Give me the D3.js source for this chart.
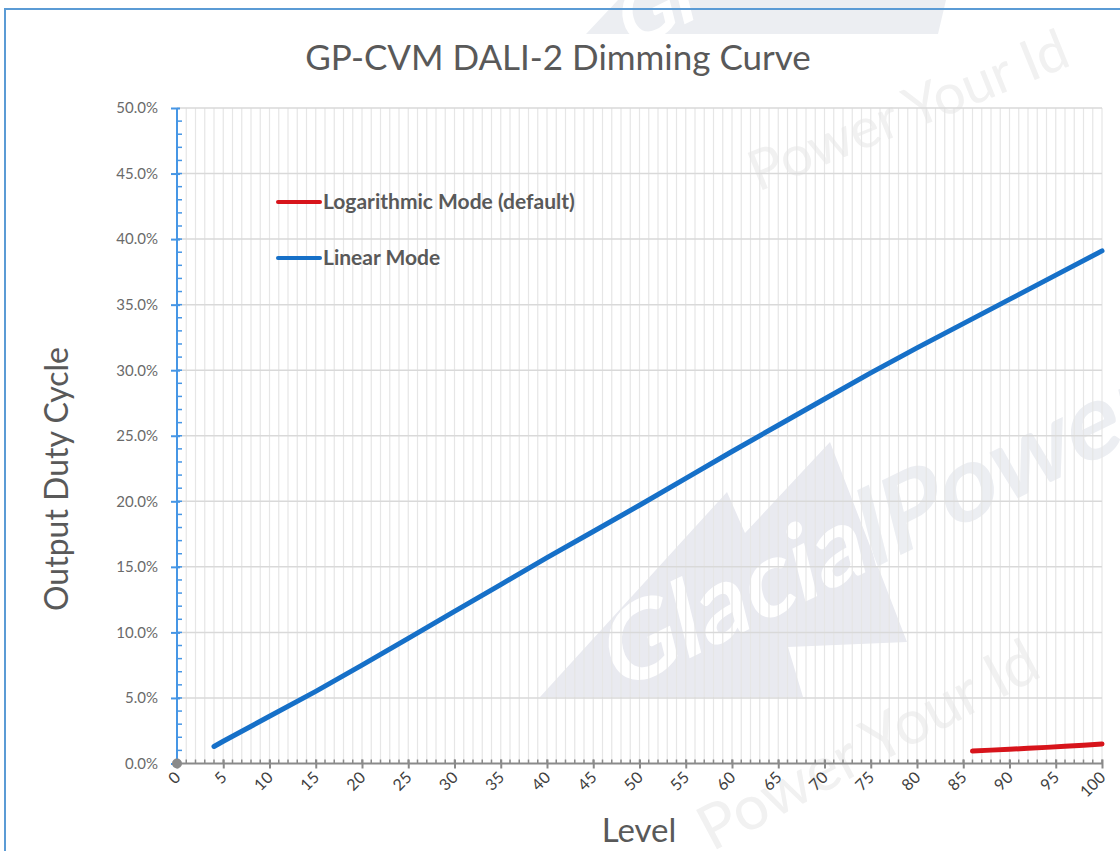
<!DOCTYPE html>
<html>
<head>
<meta charset="utf-8">
<script src="https://cdn.jsdelivr.net/npm/d3@7"></script>
<style>
  body { margin: 0; background: #fff; }
  svg { display: block; font-family: Lato, "Open Sans", sans-serif; }
</style>
</head>
<body>
<script>
// levels and duty cycle (%)
var linearLevels = [4, 5, 10, 15, 20, 25, 30, 35, 40, 45, 50, 55, 60, 65, 70, 75, 80, 85, 90, 95, 100];
var linearDuty = [1.3, 1.7, 3.6, 5.5, 7.5, 9.55, 11.6, 13.65, 15.7, 17.7, 19.7, 21.75, 23.8, 25.8, 27.8, 29.8, 31.7, 33.55, 35.4, 37.25, 39.1];

var logLevels = [86, 88, 90, 92, 94, 96, 98, 100];
var logDuty = [0.95, 1.02, 1.09, 1.16, 1.23, 1.31, 1.40, 1.49];

var xTicks = d3.range(0, 101, 5);
var yTicks = [0, 5, 10, 15, 20, 25, 30, 35, 40, 45, 50];

var seriesNames = ['Logarithmic Mode (default)', 'Linear Mode'];
var seriesColors = ['#d7141b', '#1670c8'];

var width = 1120;
var height = 851;
var margin = {top: 108, right: 18, bottom: 87.5, left: 177};
var plotW = width - margin.left - margin.right;
var plotH = height - margin.top - margin.bottom;

var x = d3.scaleLinear().domain([0, 100]).range([0, plotW]);
var y = d3.scaleLinear().domain([0, 50]).range([plotH, 0]);

var svg = d3.select('body').append('svg')
  .attr('width', width)
  .attr('height', height);

// watermark (drawn underneath)
var wm = svg.append('g').attr('class', 'watermark');
var triPts = [[540, 697], [727, 492], [745, 533], [830, 442], [907, 642], [788, 647], [803, 697]];
var logoText = 'translate(616,694) rotate(-26) skewX(-12)';
wm.append('clipPath').attr('id', 'triclip')
  .append('polygon').attr('points', triPts.join(' '));
wm.append('text')
  .attr('transform', logoText)
  .attr('font-size', 104).attr('font-weight', 'bold')
  .attr('fill', '#eceef2')
  .text('GlacialPower');
wm.append('polygon').attr('points', triPts.join(' ')).attr('fill', '#e9eaf0');
wm.append('g').attr('clip-path', 'url(#triclip)')
  .append('text')
  .attr('transform', logoText)
  .attr('font-size', 104).attr('font-weight', 'bold')
  .attr('fill', '#ffffff')
  .text('GlacialPower');
wm.append('polygon').attr('points', '586,34 618,0 946,0 938,34').attr('fill', '#eceef2');
wm.append('text')
  .attr('transform', 'translate(628,52) rotate(-26) skewX(-12)')
  .attr('font-size', 80).attr('font-weight', 'bold')
  .attr('fill', '#ffffff')
  .text('Gl');
wm.append('text')
  .attr('transform', 'translate(758,192) rotate(-22)')
  .attr('font-size', 56)
  .attr('fill', '#f1f1f1')
  .text('Power Your Id');
wm.append('text')
  .attr('transform', 'translate(712,852) rotate(-28)')
  .attr('font-size', 62)
  .attr('fill', '#f1f1f1')
  .text('Power Your Id');

// frame
svg.append('path')
  .attr('d', 'M5,' + height + 'V9H' + width)
  .attr('fill', 'none')
  .attr('stroke', '#5b9bd5')
  .attr('stroke-width', 2);

svg.append('text')
  .attr('x', 558)
  .attr('y', 70)
  .attr('text-anchor', 'middle')
  .attr('font-size', 35)
  .attr('fill', '#595959')
  .text('GP-CVM DALI-2 Dimming Curve');

var g = svg.append('g')
  .attr('transform', 'translate(' + margin.left + ',' + margin.top + ')');

// vertical grid, one per level
g.append('g')
  .selectAll('line')
  .data(d3.range(1, 101))
  .enter().append('line')
  .attr('x1', function(d) { return x(d); })
  .attr('x2', function(d) { return x(d); })
  .attr('y1', 0)
  .attr('y2', plotH)
  .attr('stroke', '#e6e6e6')
  .attr('stroke-width', 1.2);

// horizontal grid
g.append('g')
  .selectAll('line')
  .data(yTicks.slice(1))
  .enter().append('line')
  .attr('x1', 0)
  .attr('x2', plotW)
  .attr('y1', function(d) { return y(d); })
  .attr('y2', function(d) { return y(d); })
  .attr('stroke', '#d9d9d9')
  .attr('stroke-width', 1.5);

// y axis (blue) with minor ticks per 1%
var yAxis = g.append('g');
yAxis.append('g')
  .selectAll('line')
  .data(d3.range(1, 50))
  .enter().append('line')
  .attr('x1', 0).attr('x2', 5)
  .attr('y1', function(d) { return y(d); })
  .attr('y2', function(d) { return y(d); })
  .attr('stroke', '#4696e5')
  .attr('stroke-width', 1.5);
yAxis.call(d3.axisLeft(y).tickValues(yTicks).tickSize(6).tickPadding(13)
    .tickFormat(function(d) { return d.toFixed(1) + '%'; }));
yAxis.select('.domain').attr('stroke', '#4696e5').attr('stroke-width', 2)
  .attr('d', 'M0,' + plotH + 'V0');
yAxis.selectAll('.tick line').attr('stroke', '#4696e5').attr('stroke-width', 2)
  .attr('x2', -6).attr('x1', 3);
yAxis.selectAll('.tick text')
  .attr('font-family', 'Lato, sans-serif')
  .attr('font-size', 15)
  .attr('fill', '#6a6a6a');

// x axis (gray)
var xAxis = g.append('g')
  .attr('transform', 'translate(0,' + plotH + ')');
xAxis.append('g')
  .selectAll('line')
  .data(d3.range(1, 101))
  .enter().append('line')
  .attr('x1', function(d) { return x(d); })
  .attr('x2', function(d) { return x(d); })
  .attr('y1', -4).attr('y2', 0)
  .attr('stroke', '#8a8a8a')
  .attr('stroke-width', 1.5);
xAxis.call(d3.axisBottom(x).tickValues(xTicks).tickSize(5));
xAxis.select('.domain').attr('stroke', '#8a8a8a').attr('stroke-width', 2)
  .attr('d', 'M0,0H' + plotW);
xAxis.selectAll('.tick line').attr('stroke', '#8a8a8a').attr('stroke-width', 2)
  .attr('y1', -4).attr('y2', 5);
xAxis.selectAll('.tick text')
  .attr('font-family', 'Lato, sans-serif')
  .attr('font-size', 16)
  .attr('fill', '#404040')
  .attr('text-anchor', 'end')
  .attr('dy', null)
  .attr('y', 0)
  .attr('transform', 'translate(4,15) rotate(-45)');

g.append('circle')
  .attr('cx', x(0)).attr('cy', y(0)).attr('r', 5)
  .attr('fill', '#8a8a8a');

// series
var line = d3.line()
  .x(function(d) { return x(d[0]); })
  .y(function(d) { return y(d[1]); });

g.append('path')
  .datum(d3.zip(linearLevels, linearDuty))
  .attr('d', line)
  .attr('fill', 'none')
  .attr('stroke', seriesColors[1])
  .attr('stroke-width', 5)
  .attr('stroke-linecap', 'round')
  .attr('stroke-linejoin', 'round');

g.append('path')
  .datum(d3.zip(logLevels, logDuty))
  .attr('d', line)
  .attr('fill', 'none')
  .attr('stroke', seriesColors[0])
  .attr('stroke-width', 5)
  .attr('stroke-linecap', 'round')
  .attr('stroke-linejoin', 'round');

// legend
var legend = svg.append('g')
  .selectAll('g')
  .data(seriesNames)
  .enter().append('g')
  .attr('transform', function(d, i) { return 'translate(278,' + (202 + i * 56) + ')'; });
legend.append('line')
  .attr('x1', 0).attr('x2', 42)
  .attr('stroke', function(d, i) { return seriesColors[i]; })
  .attr('stroke-width', 4)
  .attr('stroke-linecap', 'round');
legend.append('text')
  .attr('x', 45)
  .attr('y', 7)
  .attr('font-size', 21)
  .attr('font-weight', 'bold')
  .attr('fill', '#595959')
  .text(function(d) { return d; });

// axis titles
svg.append('text')
  .attr('x', 639)
  .attr('y', 842)
  .attr('text-anchor', 'middle')
  .attr('font-size', 33)
  .attr('fill', '#595959')
  .text('Level');

svg.append('text')
  .attr('transform', 'translate(68,479) rotate(-90)')
  .attr('text-anchor', 'middle')
  .attr('font-size', 32)
  .attr('fill', '#595959')
  .text('Output Duty Cycle');
</script>
</body>
</html>
